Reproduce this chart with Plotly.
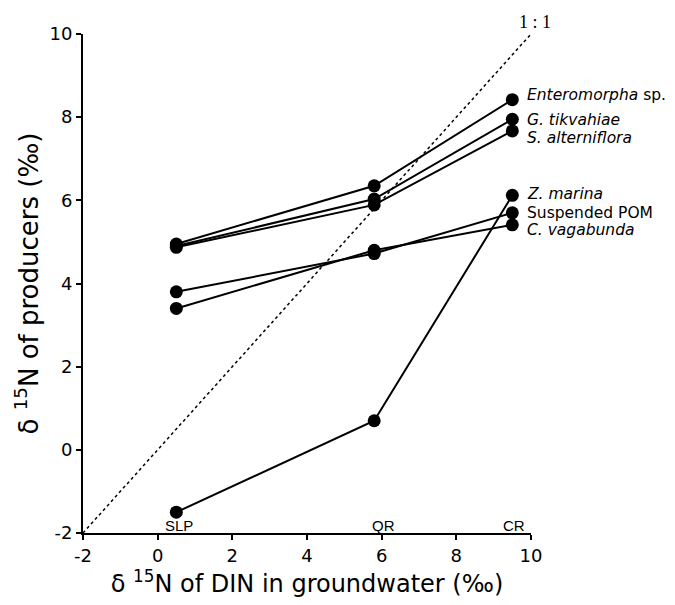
import plotly.graph_objects as go

# ---- data ----
sites = ["SLP", "QR", "CR"]
site_x = [0.5, 5.8, 9.5]

series_names = ["<i>Enteromorpha</i> sp.", "<i>G. tikvahiae</i>", "<i>S. alterniflora</i>",
                "<i>Z. marina</i>", "Suspended POM", "<i>C. vagabunda</i>"]
enteromorpha = [4.95, 6.35, 8.42]
g_tikvahiae = [4.90, 6.03, 7.95]
s_alterniflora = [4.87, 5.89, 7.67]
z_marina = [-1.50, 0.70, 6.12]
suspended_pom = [3.80, 4.72, 5.70]
c_vagabunda = [3.40, 4.80, 5.41]
series_values = [enteromorpha, g_tikvahiae, s_alterniflora, z_marina, suspended_pom, c_vagabunda]

one_to_one = [-2, 10]
x_ticks = [-2, 0, 2, 4, 6, 8, 10]
y_ticks = [-2, 0, 2, 4, 6, 8, 10]

# label pixel nudges (style, not data)
label_yshift = [5, -1, -7, 1, 0, -5]
site_xshift = [3, 9, 2]

FONT = "DejaVu Sans, Liberation Sans, Arial, sans-serif"

fig = go.Figure()

fig.add_trace(go.Scatter(
    x=one_to_one, y=one_to_one, mode="lines",
    line=dict(color="black", width=1.5, dash="dot"),
    hoverinfo="skip", showlegend=False))

for vals in series_values:
    fig.add_trace(go.Scatter(
        x=site_x, y=vals, mode="lines+markers",
        line=dict(color="black", width=2),
        marker=dict(color="black", size=13),
        showlegend=False, cliponaxis=False))

annotations = []
for name, vals, ys in zip(series_names, series_values, label_yshift):
    annotations.append(dict(
        x=site_x[-1], y=vals[-1], xref="x", yref="y", text=name,
        showarrow=False, xanchor="left", yanchor="middle",
        xshift=13, yshift=ys,
        font=dict(family=FONT, size=15.5, color="black")))

for s, sx, xs in zip(sites, site_x, site_xshift):
    annotations.append(dict(
        x=sx, y=-2, xref="x", yref="y", text=s, showarrow=False,
        xanchor="center", yanchor="bottom", yshift=-3, xshift=xs,
        font=dict(family="Liberation Sans, Arial, sans-serif", size=15, color="black")))

annotations.append(dict(
    x=10, y=10, xref="x", yref="y", text="1 : 1", showarrow=False,
    xanchor="center", yanchor="middle", xshift=4, yshift=12,
    font=dict(family="Liberation Serif, Times New Roman, serif", size=18, color="black")))

fig.update_layout(
    width=667, height=597,
    margin=dict(l=75, r=144, t=26, b=72),
    paper_bgcolor="white", plot_bgcolor="white",
    annotations=annotations,
    font=dict(family=FONT, color="black"),
)

fig.update_xaxes(
    range=[-2, 10], tickvals=x_ticks, ticktext=[str(v) for v in x_ticks],
    showgrid=False, zeroline=False, showline=True, linecolor="black", linewidth=2,
    ticks="outside", ticklen=5, tickwidth=2, tickcolor="black",
    tickfont=dict(family=FONT, size=18, color="black"),
    title=dict(text="δ <sup>15</sup>N of DIN in groundwater (‰)",
               font=dict(family=FONT, size=24, color="black"), standoff=10),
)
fig.update_yaxes(
    range=[-2, 10], tickvals=y_ticks, ticktext=[str(v) for v in y_ticks],
    showgrid=False, zeroline=False, showline=True, linecolor="black", linewidth=2,
    ticks="outside", ticklen=5, tickwidth=2, tickcolor="black",
    tickfont=dict(family=FONT, size=18, color="black"),
    title=dict(text="δ <sup>15</sup>N of producers (‰)",
               font=dict(family=FONT, size=26, color="black"), standoff=3),
)

fig.write_html("out.html")
